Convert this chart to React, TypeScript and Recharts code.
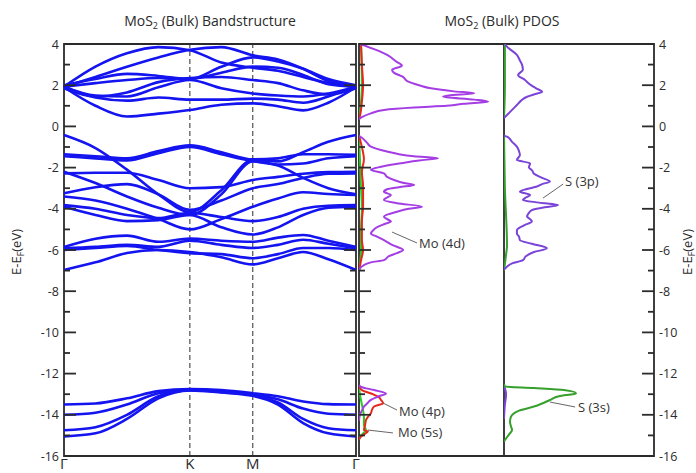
import React from 'react'
import { LineChart, Line, XAxis, YAxis, ReferenceLine, ReferenceArea, ReferenceDot } from 'recharts'

const INK = '#2b2b2b'
const BAND_BLUE = '#1414f0'
const FONT = '"Open Sans", "DejaVu Sans", sans-serif'

// k-path: Γ – K – M – Γ (relative path length)
const kPath = [0, 0.25, 0.5, 0.75, 1.0, 1.25, 1.5, 1.7, 1.9, 2.1, 2.32]
const kTicks = [0, 1.0, 1.5, 2.32]
const kLabels = ['Γ', 'K', 'M', 'Γ']
const energyTicks = [4, 3, 2, 1, 0, -1, -2, -3, -4, -5, -6, -7, -8, -9, -10, -11, -12, -13, -14, -15, -16]

// conduction bands (eV)
const c1 = [1.93, 2.9, 3.55, 3.85, 3.7, 3.1, 2.85, 2.7, 2.4, 2.1, 1.93]
const c2 = [1.93, 2.4, 2.9, 3.35, 3.72, 3.85, 3.45, 3.25, 2.8, 2.2, 1.93]
const c3 = [1.93, 2.1, 2.25, 2.35, 2.3, 2.6, 2.9, 2.85, 2.5, 2.05, 1.93]
const c4 = [1.93, 1.5, 1.45, 1.9, 2.25, 1.85, 1.6, 1.5, 1.45, 1.6, 1.93]
const c5 = [1.9, 1.0, 0.48, 0.62, 0.8, 1.05, 1.12, 0.98, 0.78, 1.15, 1.9]
const c6 = [1.93, 1.4, 1.25, 1.4, 1.3, 1.3, 1.35, 1.3, 1.15, 1.45, 1.93]
const c7 = [1.85, 1.45, 1.65, 2.15, 2.35, 2.4, 2.25, 2.1, 1.75, 1.55, 1.85]
const c8 = [2.0, 2.3, 2.55, 2.45, 2.3, 2.9, 3.35, 3.15, 2.8, 2.3, 2.0]

// valence bands (eV)
const v1 = [-0.42, -1.05, -2.1, -3.3, -4.15, -3.1, -1.62, -1.7, -1.25, -0.75, -0.42]
const v2 = [-2.2, -2.75, -3.4, -3.95, -4.3, -3.3, -1.7, -1.9, -2.5, -3.0, -3.3]
const v3 = [-1.35, -1.45, -1.55, -1.2, -0.92, -1.25, -1.6, -1.55, -1.35, -1.35, -1.38]
const v4 = [-1.45, -1.55, -1.65, -1.3, -1.0, -1.35, -1.68, -1.85, -1.8, -1.55, -1.45]
const v5 = [-2.28, -2.25, -2.25, -2.6, -3.0, -2.95, -2.6, -2.45, -2.3, -2.22, -2.2]
const v6 = [-3.25, -2.95, -2.8, -3.3, -4.05, -3.6, -3.0, -2.8, -2.5, -2.3, -2.28]
const v7 = [-3.4, -3.6, -4.0, -4.5, -5.0, -4.5, -3.9, -3.5, -3.2, -3.28, -3.33]
const v8 = [-3.82, -4.0, -4.3, -4.45, -4.2, -4.4, -4.6, -4.4, -4.0, -3.85, -3.82]
const v9 = [-3.9, -4.3, -4.6, -4.55, -4.3, -4.9, -5.25, -4.9, -4.3, -3.95, -3.9]
const v10 = [-5.85, -5.45, -5.3, -5.6, -5.45, -5.55, -5.6, -5.4, -5.27, -5.55, -5.85]
const v11 = [-5.92, -5.85, -5.75, -5.85, -5.55, -5.75, -5.9, -5.75, -5.5, -5.7, -5.92]
const v12 = [-6.0, -5.9, -5.8, -6.0, -6.15, -6.2, -6.4, -6.2, -5.9, -5.9, -6.0]
const v13 = [-6.97, -6.6, -6.15, -6.0, -6.1, -6.35, -6.7, -6.4, -6.1, -6.45, -6.97]

// semicore bands (eV)
const s1 = [-13.5, -13.45, -13.2, -12.85, -12.75, -12.8, -12.95, -13.1, -13.35, -13.48, -13.5]
const s2 = [-14.0, -13.9, -13.5, -12.95, -12.78, -12.85, -13.0, -13.25, -13.7, -13.95, -14.0]
const s3 = [-14.75, -14.6, -14.0, -13.1, -12.8, -12.9, -13.05, -13.4, -14.2, -14.65, -14.75]
const s4 = [-15.05, -14.9, -14.2, -13.2, -12.82, -12.92, -13.08, -13.5, -14.4, -14.9, -15.05]

const bands = [c1, c2, c3, c4, c5, c6, c7, c8, v1, v2, v3, v4, v5, v6, v7, v8, v9, v10, v11, v12, v13, s1, s2, s3, s4]

const bandRows = kPath.map((k, i) => {
  const row: Record<string, number> = { k }
  bands.forEach((b, j) => {
    row['b' + j] = b[i]
  })
  return row
})

// PDOS segments as [energy (eV), DOS (arb.)]
const mo4dCond = [
  [4.0, 0.03], [3.75, 0.52], [3.45, 1.0], [3.15, 1.28], [2.95, 1.48], [2.75, 1.14], [2.6, 1.21], [2.4, 1.52],
  [2.2, 1.66], [2.0, 2.07], [1.85, 2.48], [1.7, 3.28], [1.61, 3.97], [1.5, 3.1], [1.44, 2.9], [1.3, 3.97],
  [1.2, 4.45], [1.1, 3.62], [1.0, 3.03], [0.92, 1.9], [0.8, 0.86], [0.63, 0.41], [0.45, 0.1], [0.35, 0],
]
const mo4dVal = [
  [-0.45, 0], [-0.55, 0.1], [-0.8, 0.28], [-0.98, 0.41], [-1.23, 1.0], [-1.35, 1.38], [-1.45, 1.9], [-1.55, 2.72],
  [-1.65, 2.07], [-1.79, 1.45], [-1.96, 0.76], [-2.1, 0.41], [-2.28, 0.86], [-2.45, 0.97], [-2.6, 1.21], [-2.75, 1.55],
  [-2.84, 1.9], [-2.95, 1.38], [-3.05, 0.97], [-3.17, 0.86], [-3.33, 1.1], [-3.45, 0.97], [-3.57, 0.86], [-3.73, 1.31],
  [-3.9, 2.17], [-4.0, 1.72], [-4.14, 1.31], [-4.38, 0.86], [-4.5, 0.97], [-4.62, 1.1], [-4.75, 0.86], [-4.87, 0.66],
  [-5.05, 0.48], [-5.2, 0.41], [-5.35, 0.62], [-5.52, 0.86], [-5.75, 1.14], [-6.0, 1.52], [-6.15, 1.31], [-6.3, 1.03],
  [-6.49, 0.86], [-6.6, 0.41], [-6.73, 0.17], [-6.9, 0.03], [-7.0, 0],
]
const mo4dCore = [
  [-12.55, 0], [-12.64, 0.07], [-12.8, 0.52], [-12.96, 0.93], [-13.1, 0.69], [-13.28, 0.41], [-13.45, 0.28],
  [-13.6, 0.17], [-13.8, 0.1], [-14.0, 0.03], [-14.3, 0],
]
const mo4pCond = [[4.0, 0.07], [3.0, 0.1], [2.0, 0.14], [1.2, 0.1], [0.5, 0.03], [0.35, 0]]
const mo4pVal = [
  [-0.45, 0], [-1.0, 0.1], [-1.6, 0.17], [-2.2, 0.1], [-2.9, 0.14], [-3.9, 0.14], [-4.6, 0.1], [-5.5, 0.1],
  [-6.0, 0.14], [-6.5, 0.07], [-7.0, 0],
]
const mo4pCore = [
  [-12.6, 0], [-12.8, 0.1], [-13.0, 0.48], [-13.15, 0.69], [-13.28, 0.76], [-13.44, 0.83], [-13.6, 0.52],
  [-13.75, 0.45], [-13.93, 0.41], [-14.1, 0.31], [-14.25, 0.24], [-14.5, 0.21], [-14.74, 0.17], [-14.8, 0.31],
  [-14.95, 0.17], [-15.06, 0.07], [-15.2, 0],
]
const mo5sCond = [[4.0, 0.07], [2.0, 0.1], [1.2, 0.07], [0.35, 0]]
const mo5sVal = [[-0.45, 0], [-1.5, 0.03], [-3.0, 0.07], [-4.0, 0.1], [-5.0, 0.07], [-6.0, 0.07], [-7.0, 0]]
const mo5sCore = [
  [-12.6, 0], [-13.0, 0.03], [-13.5, 0.1], [-14.1, 0.17], [-14.5, 0.17], [-14.74, 0.24], [-14.9, 0.14],
  [-15.1, 0.03], [-15.2, 0],
]
const s3pCond = [
  [4.0, 0.03], [3.87, 0.1], [3.47, 0.43], [3.2, 0.53], [3.0, 0.6], [2.75, 0.63], [2.5, 0.47], [2.25, 0.7],
  [2.0, 0.9], [1.85, 1.07], [1.68, 1.27], [1.55, 1.0], [1.44, 0.77], [1.25, 0.57], [1.04, 0.43], [0.8, 0.27],
  [0.55, 0.1], [0.4, 0],
]
const s3pVal = [
  [-0.45, 0], [-0.5, 0.1], [-0.75, 0.27], [-0.98, 0.43], [-1.2, 0.5], [-1.39, 0.53], [-1.63, 0.43], [-1.79, 0.87],
  [-2.0, 0.83], [-2.12, 0.93], [-2.3, 1.0], [-2.5, 1.27], [-2.68, 1.53], [-2.8, 1.27], [-2.92, 1.1], [-3.05, 0.73],
  [-3.17, 0.53], [-3.33, 0.87], [-3.45, 0.73], [-3.57, 0.63], [-3.7, 1.17], [-3.82, 1.8], [-3.95, 1.27], [-4.06, 0.93],
  [-4.2, 0.83], [-4.38, 0.77], [-4.5, 0.87], [-4.62, 0.93], [-4.8, 0.67], [-5.04, 0.43], [-5.2, 0.43], [-5.35, 0.5],
  [-5.52, 0.53], [-5.7, 0.93], [-5.92, 1.43], [-6.1, 1.0], [-6.3, 0.73], [-6.49, 0.63], [-6.65, 0.27], [-6.81, 0.1],
  [-6.95, 0],
]
const s3pCore = [[-12.6, 0], [-13.0, 0.07], [-13.5, 0.03], [-14.2, 0]]
const s3sCond = [[4.0, 0.03], [2.0, 0.03], [0.4, 0]]
const s3sVal = [[-0.45, 0], [-3.0, 0.03], [-5.8, 0.1], [-6.2, 0.07], [-7.0, 0]]
const s3sCore = [
  [-12.5, 0], [-12.62, 0.03], [-12.7, 1.0], [-12.8, 2.0], [-12.96, 2.4], [-13.1, 1.83], [-13.28, 1.53], [-13.45, 1.27],
  [-13.6, 1.0], [-13.8, 0.5], [-13.93, 0.33], [-14.1, 0.23], [-14.34, 0.2], [-14.55, 0.23], [-14.74, 0.27],
  [-14.95, 0.17], [-15.15, 0.07], [-15.3, 0],
]

const toRows = (pts: number[][]) => pts.map(([e, d]) => ({ e, d }))

const MO4D = '#a43ee4'
const MO4P = '#e8261c'
const MO5S = '#22cc22'
const S3P = '#7a44d8'
const S3S = '#35a02c'

function EdgeTick(props: any) {
  const { x, y, payload, side, labels } = props
  const major = payload.value % 2 === 0
  const len = major ? 12 : 6
  const dir = side === 'left' ? 1 : -1
  return (
    <g>
      <line x1={x} x2={x + dir * len} y1={y} y2={y} stroke={INK} strokeWidth={1.8} />
      {labels && major && (
        <text
          x={side === 'left' ? x - 5 : x + 5}
          y={y}
          dy={4.5}
          textAnchor={side === 'left' ? 'end' : 'start'}
          fontSize={12.5}
          fontFamily={FONT}
          fill={INK}
        >
          {payload.value}
        </text>
      )}
    </g>
  )
}

const annoLabel = (value: string) => ({
  value,
  position: 'right' as const,
  offset: 1,
  fill: '#333',
  fontSize: 13,
  fontFamily: FONT,
})

const axisLabel = (
  <span>
    E-E<sub style={{ fontSize: 9, verticalAlign: '-3px' }}>F</sub>(eV)
  </span>
)

export default function App() {
  const pdosLine = (pts: number[][], color: string, key: string) => (
    <Line
      key={key}
      data={toRows(pts)}
      dataKey="d"
      type="monotone"
      stroke={color}
      strokeWidth={2}
      dot={false}
      isAnimationActive={false}
    />
  )

  return (
    <div style={{ position: 'absolute', left: 0, top: 0, width: 696, height: 473, background: '#fff', fontFamily: FONT, color: INK }}>
      <div style={{ position: 'absolute', left: 0, top: 0 }}>
        <LineChart width={362} height={473} data={bandRows} margin={{ top: 44, right: 0, bottom: 0, left: 24 }}>
          <XAxis
            type="number"
            dataKey="k"
            domain={[0, 2.32]}
            ticks={kTicks}
            interval={0}
            tickFormatter={(v: number) => kLabels[kTicks.indexOf(v)] ?? ''}
            axisLine={false}
            tickLine={false}
            tickSize={0}
            tickMargin={2}
            height={17}
            tick={{ fill: INK, fontSize: 15, fontFamily: FONT }}
          />
          <YAxis
            type="number"
            domain={[-16, 4]}
            ticks={energyTicks}
            interval={0}
            allowDataOverflow
            width={40}
            axisLine={false}
            tickLine={false}
            tickSize={0}
            tickMargin={0}
            tick={(p: any) => <EdgeTick {...p} side="left" labels />}
          />
          <YAxis
            yAxisId="r"
            orientation="right"
            type="number"
            domain={[-16, 4]}
            ticks={energyTicks}
            interval={0}
            allowDataOverflow
            width={6}
            axisLine={false}
            tickLine={false}
            tickSize={0}
            tickMargin={0}
            tick={(p: any) => <EdgeTick {...p} side="right" />}
          />
          <ReferenceLine x={1.0} stroke={INK} strokeDasharray="5 3" strokeWidth={1} />
          <ReferenceLine x={1.5} stroke={INK} strokeDasharray="5 3" strokeWidth={1} />
          {bands.map((_, j) => (
            <Line
              key={j}
              dataKey={'b' + j}
              type="monotone"
              stroke={BAND_BLUE}
              strokeWidth={2.6}
              dot={false}
              isAnimationActive={false}
            />
          ))}
          <ReferenceArea x1={0} x2={2.32} y1={-16} y2={4} fill="none" stroke={INK} strokeWidth={1.8} />
        </LineChart>
      </div>

      <div style={{ position: 'absolute', left: 340, top: 0 }}>
        <LineChart layout="vertical" width={164} height={473} margin={{ top: 44, right: 0, bottom: 17, left: 0 }}>
          <XAxis type="number" domain={[0, 5]} allowDataOverflow hide />
          <YAxis
            type="number"
            dataKey="e"
            domain={[-16, 4]}
            reversed
            ticks={energyTicks}
            interval={0}
            allowDataOverflow
            width={19}
            axisLine={false}
            tickLine={false}
            tickSize={0}
            tickMargin={0}
            tick={(p: any) => <EdgeTick {...p} side="left" />}
          />
          {pdosLine(mo5sCond, MO5S, 'a1')}
          {pdosLine(mo5sVal, MO5S, 'a2')}
          {pdosLine(mo5sCore, MO5S, 'a3')}
          {pdosLine(mo4pCond, MO4P, 'b1')}
          {pdosLine(mo4pVal, MO4P, 'b2')}
          {pdosLine(mo4pCore, MO4P, 'b3')}
          {pdosLine(mo4dCond, MO4D, 'c1')}
          {pdosLine(mo4dVal, MO4D, 'c2')}
          {pdosLine(mo4dCore, MO4D, 'c3')}
          <ReferenceArea x1={0} x2={5} y1={-16} y2={4} fill="none" stroke={INK} strokeWidth={1.8} />
          <ReferenceLine segment={[{ x: 1.14, y: -5.13 }, { x: 2.0, y: -5.66 }]} stroke="#666" strokeWidth={1} />
          <ReferenceDot x={2.0} y={-5.66} r={1} fill="none" stroke="none" label={annoLabel('Mo (4d)')} />
          <ReferenceLine segment={[{ x: 0.83, y: -13.43 }, { x: 1.31, y: -13.77 }]} stroke="#666" strokeWidth={1} />
          <ReferenceDot x={1.31} y={-13.82} r={1} fill="none" stroke="none" label={annoLabel('Mo (4p)')} />
          <ReferenceLine segment={[{ x: 0.31, y: -14.74 }, { x: 1.17, y: -14.88 }]} stroke="#666" strokeWidth={1} />
          <ReferenceDot x={1.28} y={-14.83} r={1} fill="none" stroke="none" label={annoLabel('Mo (5s)')} />
        </LineChart>
      </div>

      <div style={{ position: 'absolute', left: 504, top: 0 }}>
        <LineChart layout="vertical" width={192} height={473} margin={{ top: 44, right: 0, bottom: 17, left: 0 }}>
          <XAxis type="number" domain={[0, 5]} allowDataOverflow hide />
          <YAxis
            orientation="right"
            type="number"
            dataKey="e"
            domain={[-16, 4]}
            reversed
            ticks={energyTicks}
            interval={0}
            allowDataOverflow
            width={42}
            axisLine={false}
            tickLine={false}
            tickSize={0}
            tickMargin={0}
            tick={(p: any) => <EdgeTick {...p} side="right" labels />}
          />
          {pdosLine(s3sCond, S3S, 'd1')}
          {pdosLine(s3sVal, S3S, 'd2')}
          {pdosLine(s3pCore, S3P, 'e3')}
          {pdosLine(s3sCore, S3S, 'd3')}
          {pdosLine(s3pCond, S3P, 'e1')}
          {pdosLine(s3pVal, S3P, 'e2')}
          <ReferenceArea x1={0} x2={5} y1={-16} y2={4} fill="none" stroke={INK} strokeWidth={1.8} />
          <ReferenceLine segment={[{ x: 1.3, y: -3.48 }, { x: 1.97, y: -2.8 }]} stroke="#666" strokeWidth={1} />
          <ReferenceDot x={1.97} y={-2.65} r={1} fill="none" stroke="none" label={annoLabel('S (3p)')} />
          <ReferenceLine segment={[{ x: 1.53, y: -13.38 }, { x: 2.37, y: -13.62 }]} stroke="#666" strokeWidth={1} />
          <ReferenceDot x={2.4} y={-13.62} r={1} fill="none" stroke="none" label={annoLabel('S (3s)')} />
        </LineChart>
      </div>

      <div style={{ position: 'absolute', left: 210, top: 12, transform: 'translateX(-50%)', fontSize: 14, lineHeight: '18px', whiteSpace: 'nowrap' }}>
        MoS<sub style={{ fontSize: 9, verticalAlign: '-3px' }}>2</sub> (Bulk) Bandstructure
      </div>
      <div style={{ position: 'absolute', left: 502, top: 12, transform: 'translateX(-50%)', fontSize: 14, lineHeight: '18px', whiteSpace: 'nowrap' }}>
        MoS<sub style={{ fontSize: 9, verticalAlign: '-3px' }}>2</sub> (Bulk) PDOS
      </div>
      <div style={{ position: 'absolute', left: 18, top: 252, transform: 'translate(-50%, -50%) rotate(-90deg)', fontSize: 13, lineHeight: '16px', whiteSpace: 'nowrap' }}>
        {axisLabel}
      </div>
      <div style={{ position: 'absolute', left: 689, top: 252, transform: 'translate(-50%, -50%) rotate(-90deg)', fontSize: 13, lineHeight: '16px', whiteSpace: 'nowrap' }}>
        {axisLabel}
      </div>
    </div>
  )
}
